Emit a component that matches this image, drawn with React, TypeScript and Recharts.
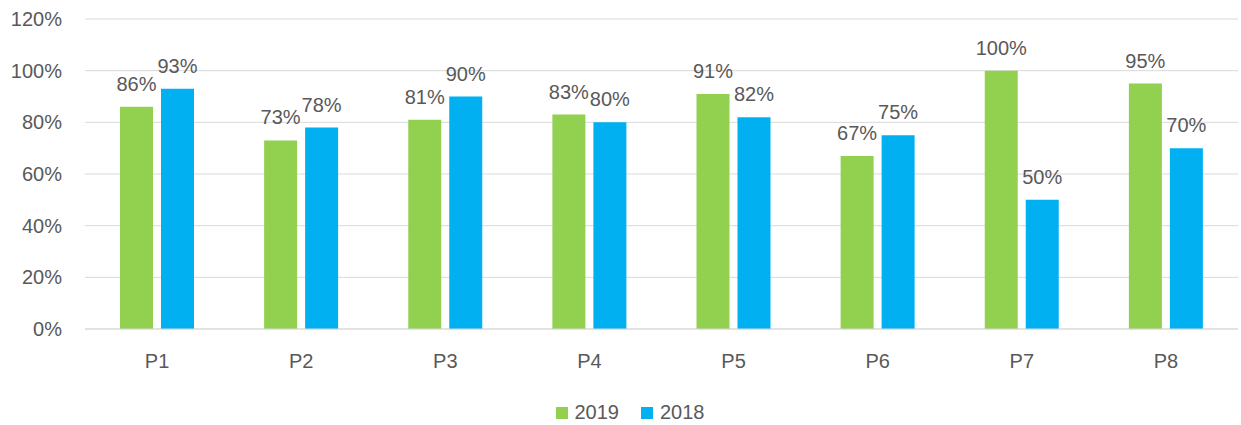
import React from 'react';
import { BarChart, Bar, XAxis, YAxis, CartesianGrid, Legend, LabelList } from 'recharts';

const categories = ['P1', 'P2', 'P3', 'P4', 'P5', 'P6', 'P7', 'P8'];
const values2019 = [0.86, 0.73, 0.81, 0.83, 0.91, 0.67, 1.0, 0.95];
const values2018 = [0.93, 0.78, 0.9, 0.8, 0.82, 0.75, 0.5, 0.7];
const yTicks = [0, 0.2, 0.4, 0.6, 0.8, 1.0, 1.2];
const seriesInfo = [
  { key: 'y2019', name: '2019', color: '#92d050' },
  { key: 'y2018', name: '2018', color: '#00b0f0' },
];

const data = categories.map((name, i) => ({
  name,
  y2019: values2019[i],
  y2018: values2018[i],
}));

const pct = (v: number) => `${Math.round(v * 100)}%`;
const FONT = '"Liberation Sans", Arial, sans-serif';
const GREY = '#595959';

// legend in series order (recharts would sort it by name)
const LegendBox = () => (
  <div
    style={{
      display: 'flex',
      justifyContent: 'center',
      gap: 22,
      fontSize: 20,
      color: GREY,
      paddingLeft: 22,
      paddingTop: 20,
    }}
  >
    {seriesInfo.map(s => (
      <span key={s.key} style={{ display: 'inline-flex', alignItems: 'center' }}>
        <span style={{ width: 12, height: 12, background: s.color, marginRight: 7, display: 'inline-block' }} />
        {s.name}
      </span>
    ))}
  </div>
);

export default function App() {
  return (
    <div style={{ position: 'absolute', left: 0, top: 0, fontFamily: FONT }}>
      <BarChart
        width={1241}
        height={425}
        data={data}
        margin={{ top: 19, right: 3, left: 0, bottom: 0 }}
        barSize={33}
        barGap={8}
      >
        <CartesianGrid vertical={false} stroke="#d9d9d9" />
        <XAxis
          dataKey="name"
          axisLine={{ stroke: '#d9d9d9' }}
          tickLine={false}
          tick={{ fill: GREY, fontSize: 20 }}
          tickMargin={19}
          height={52}
        />
        <YAxis
          domain={[0, 1.2]}
          ticks={yTicks}
          tickFormatter={pct}
          axisLine={false}
          tickLine={false}
          tick={{ fill: GREY, fontSize: 20 }}
          tickMargin={17}
          width={85}
        />
        <Legend verticalAlign="bottom" height={44} content={<LegendBox />} />
        {seriesInfo.map(s => (
          <Bar key={s.key} dataKey={s.key} name={s.name} fill={s.color} isAnimationActive={false}>
            <LabelList dataKey={s.key} position="top" offset={16} formatter={pct} fill={GREY} fontSize={20} />
          </Bar>
        ))}
      </BarChart>
    </div>
  );
}
